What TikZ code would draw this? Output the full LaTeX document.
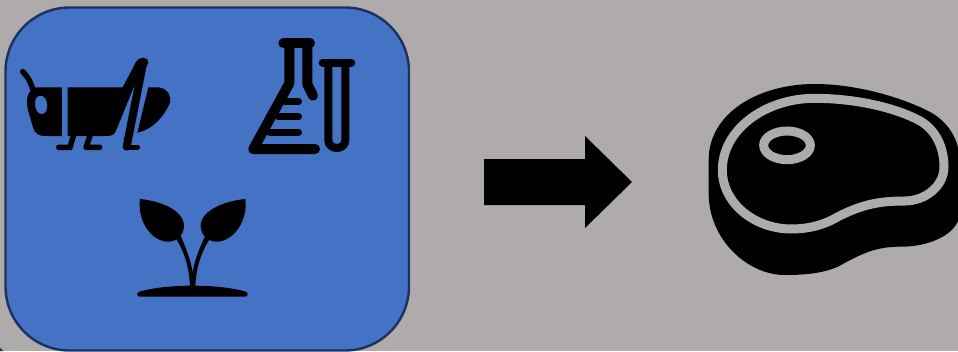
\documentclass[tikz,border=0pt]{standalone}
\definecolor{bggrey}{HTML}{AFABAB}
\definecolor{panelblue}{HTML}{4472C4}
\definecolor{paneledge}{HTML}{1B3160}
\tikzset{
  zoomed/.style={x=0.33333pt,y=-0.33333pt},
  solidblack/.style={fill=black,draw=none},
  ink/.style={draw=black,line cap=round,line join=round,fill=none}
}
\begin{document}
\begin{tikzpicture}[x=1pt,y=-1pt]
\useasboundingbox (0,0) rectangle (958,351);
\fill[bggrey] (0,0) rectangle (958,351);
% corner mark
\fill[paneledge] (0,347.5) -- (3.5,351) -- (0,351) -- cycle;
% panel
\begin{scope}
\clip (0,0) rectangle (958,351);
\draw[paneledge,fill=panelblue,line width=2.4pt,rounded corners=64pt] (5.5,7.5) rectangle (409,350.5);
\end{scope}
% arrow
\fill[black] (484,159) -- (585,159) -- (585,136) -- (632,182) -- (585,228) -- (585,205) -- (484,205) -- cycle;

% grasshopper
\begin{scope}[shift={(0pt,-30pt)},zoomed]
\draw[ink,line width=5.5pt] (68,125) .. controls (85,140) and (93,160) .. (100,182);
\fill[solidblack,even odd rule] (108,172) -- (186,172) -- (186,318) -- (135,318)
  .. controls (115,318) and (105,310) .. (100,295) -- (84,240)
  .. controls (75,205) and (85,180) .. (108,172) -- cycle
  (122,197) .. controls (135,197) and (142,212) .. (142,228)
  .. controls (142,245) and (133,254) .. (122,252)
  .. controls (110,250) and (104,232) .. (105,218)
  .. controls (105,205) and (112,197) .. (122,197) -- cycle;
% body
\fill[solidblack] (203,172) -- (368,172) -- (408,96) .. controls (415,80) and (445,78) .. (445,98)
  -- (415,160) -- (406,160) -- (349,300) .. controls (344,314) and (335,318) .. (320,318) -- (203,318) -- cycle;
% leg
\draw[ink,line width=8pt] (430,95) -- (380,350);
\draw[ink,line width=5.5pt] (378,352) -- (412,352);
% wing
\fill[solidblack] (445,172) -- (475,172) .. controls (505,176) and (515,200) .. (510,218)
  .. controls (495,255) and (460,298) .. (412,308) -- cycle;
% feet
\draw[ink,line width=5.5pt,line join=miter] (220,318) -- (210,352) -- (176,352);
\draw[ink,line width=5.5pt] (270,318) -- (258,352) -- (299,352);
\end{scope}

% flask and tube
\begin{scope}[shift={(230pt,-25pt)},zoomed]
\draw[ink,line width=10pt] (160,55) -- (240,55);
\draw[ink,line width=10pt] (178,55) -- (178,175) -- (70,372) -- (255,372);
\draw[ink,line width=10pt] (232,55) -- (232,178) -- (249,212);
\draw[ink,line width=7.5pt] (165,230) -- (205,230);
\draw[ink,line width=7.5pt] (145,275) -- (205,275);
\draw[ink,line width=7.5pt] (120,322) -- (205,322);
\draw[ink,line width=8pt] (278,113) -- (364,113);
\draw[ink,line width=8pt] (295,113) -- (295,345)
  .. controls (295,377) and (346,377) .. (346,345) -- (346,113);
\end{scope}

% plant
\begin{scope}[shift={(120pt,-185pt)},zoomed]
\fill[solidblack] (60,42) .. controls (125,48) and (194,78) .. (192,125)
  .. controls (190,155) and (165,172) .. (140,170)
  .. controls (90,165) and (52,105) .. (60,42) -- cycle;
\fill[solidblack] (376,42) .. controls (311,48) and (240,78) .. (242,125)
  .. controls (244,155) and (269,172) .. (294,170)
  .. controls (344,165) and (384,105) .. (376,42) -- cycle;
\fill[solidblack] (168,160) .. controls (195,205) and (208,250) .. (210,305) -- (226,305)
  .. controls (228,250) and (242,205) .. (270,160) -- (256,152)
  .. controls (238,190) and (224,225) .. (218,262)
  .. controls (212,225) and (198,190) .. (182,152) -- cycle;
\fill[solidblack] (58,320) .. controls (140,296) and (295,296) .. (378,320)
  .. controls (386,325) and (384,335) .. (375,335) -- (60,335)
  .. controls (50,335) and (48,325) .. (58,320) -- cycle;
\end{scope}

% steak
\begin{scope}[shift={(698pt,-70pt)},zoomed]
\fill[solidblack] (350,42) .. controls (480,42) and (620,85) .. (700,128)
  .. controls (755,160) and (784,215) .. (784,265) -- (784,440)
  .. controls (775,490) and (700,530) .. (610,530)
  .. controls (540,530) and (500,545) .. (420,590)
  .. controls (370,612) and (310,615) .. (260,615)
  .. controls (150,615) and (32,510) .. (32,370) -- (32,270)
  .. controls (32,130) and (180,42) .. (350,42) -- cycle;
\draw[bggrey,line width=9pt,fill=none] (350,85)
  .. controls (470,85) and (590,112) .. (665,152)
  .. controls (715,180) and (738,235) .. (738,290)
  .. controls (738,350) and (680,393) .. (620,393)
  .. controls (540,393) and (490,405) .. (420,440)
  .. controls (370,470) and (320,477) .. (280,477)
  .. controls (170,477) and (73,400) .. (73,300)
  .. controls (73,180) and (200,85) .. (350,85) -- cycle;
\draw[bggrey,line width=9pt] (267,226) ellipse [x radius=70,y radius=43];
\end{scope}
\end{tikzpicture}
\end{document}
